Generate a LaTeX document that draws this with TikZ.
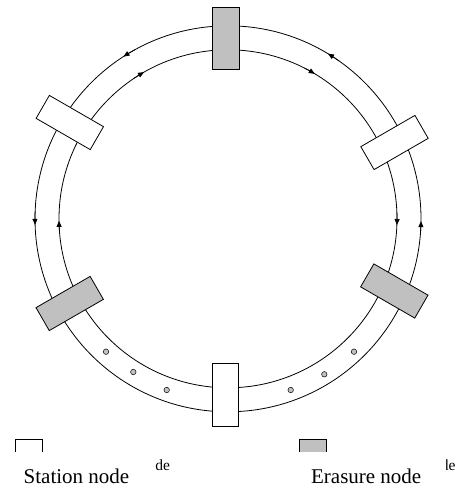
\documentclass[tikz,border=0pt]{standalone}
\usepackage{fontspec}
\setmainfont{Liberation Serif}
\usetikzlibrary{arrows.meta}
\definecolor{lgray}{RGB}{192,192,192}
\begin{document}
\begin{tikzpicture}[x=1pt,y=-1pt, line width=0.8pt,
  ring/.style={draw=black, line width=0.8pt},
  ringnode/.style={draw=black, line width=0.8pt, minimum width=26.5pt, minimum height=62.5pt, inner sep=0pt, outer sep=0pt},
  station/.style={ringnode, fill=white},
  erasure/.style={ringnode, fill=lgray},
  flow/.style={-{Triangle[length=6pt,width=5pt]}, line width=0.7pt},
  dot/.style={circle, draw=black, line width=0.5pt, fill=lgray, minimum size=5.5pt, inner sep=0pt},
  legbox/.style={draw=black, line width=0.8pt},
  bigtxt/.style={anchor=base west, inner sep=0pt, font=\fontsize{21}{24}\selectfont},
  smalltxt/.style={inner sep=0pt, font=\fontsize{15.5}{18}\selectfont}]
\useasboundingbox (0,0) rectangle (459,490);
\coordinate (C) at (228,218.8);
% rings
\draw[ring] (C) circle[radius=193];
\draw[ring] (C) circle[radius=169];
% outer ring arrows (counter-clockwise)
\draw[flow] (C) ++(-118.8:193) arc[start angle=-118.8, end angle=-122.8, radius=193];
\draw[flow] (C) ++(-54.8:193) arc[start angle=-54.8, end angle=-58.8, radius=193];
\draw[flow] (C) ++(-177.8:193) arc[start angle=-177.8, end angle=-181.8, radius=193];
\draw[flow] (C) ++(4.7:193) arc[start angle=4.7, end angle=0.7, radius=193];
% inner ring arrows (clockwise)
\draw[flow] (C) ++(-124:169) arc[start angle=-124, end angle=-119.8, radius=169];
\draw[flow] (C) ++(-63:169) arc[start angle=-63, end angle=-59.1, radius=169];
\draw[flow] (C) ++(-184.7:169) arc[start angle=-184.7, end angle=-180.7, radius=169];
\draw[flow] (C) ++(-1.9:169) arc[start angle=-1.9, end angle=2.1, radius=169];
% ring nodes
\node[erasure] (ntop) at (225.7,38.5) {};
\node[station, rotate=60] (nul) at (69.8,122.5) {};
\node[erasure, rotate=-60] (nll) at (69.7,303.5) {};
\node[station, rotate=-60] (nur) at (394.5,142.5) {};
\node[erasure, rotate=60] (nlr) at (394.3,291) {};
\node[station] (nbot) at (225.5,395) {};
% packets
\node[dot] (p1) at (106,351.7) {};
\node[dot] (p2) at (133.3,372) {};
\node[dot] (p3) at (166.7,390) {};
\node[dot] (p4) at (290.7,390) {};
\node[dot] (p5) at (324.3,374.3) {};
\node[dot] (p6) at (354,351.7) {};
% legend
\draw[legbox] (15,451.7) -- (15,439.3) -- (42.7,439.3) -- (42.7,451.7);
\fill[lgray] (299,439.3) rectangle (326.7,451.7);
\draw[legbox] (299,451.7) -- (299,439.3) -- (326.7,439.3) -- (326.7,451.7);
\node[bigtxt] (lst) at (23.3,483.5) {Station node};
\node[bigtxt] (ler) at (310.7,483.5) {Erasure node};
\node[smalltxt, anchor=base west] (d1) at (155,470.7) {de};
\begin{scope}
\clip (446.3,450) rectangle (459,480);
\node[smalltxt, anchor=base east] (d2) at (456,470.7) {de};
\end{scope}
\end{tikzpicture}
\end{document}
